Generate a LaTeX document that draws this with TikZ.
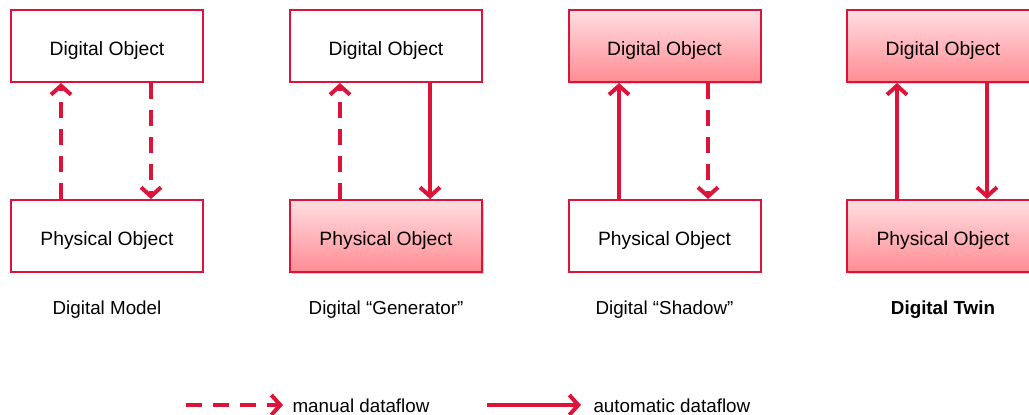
\documentclass[tikz,border=0pt]{standalone}
\usepackage{fontspec}
\setmainfont{Liberation Sans}
\usetikzlibrary{arrows.meta,shadows}
\definecolor{flowred}{RGB}{220,20,58}
\definecolor{filltop}{RGB}{255,222,225}
\definecolor{fillbot}{RGB}{255,140,148}
\tikzset{
  x=1pt, y=-1pt,
  boxfont/.style={font=\fontsize{19.3}{22}\selectfont},
  textfont/.style={font=\fontsize{18.8}{22}\selectfont},
  % text baseline sits 9pt below the box centre
  objbox/.style={draw=flowred, line width=2pt, minimum width=192pt, minimum height=72pt,
    inner sep=0pt, boxfont, fill=white, text height=20pt, text depth=2pt},
  autobox/.style={objbox, top color=filltop, bottom color=fillbot,
    drop shadow={shadow xshift=1.5pt, shadow yshift=-1.5pt, opacity=0.35}},
  flow/.style={draw=flowred, line width=4pt,
    -{Straight Barb[length=9pt,width=20pt,line width=4pt]}},
  manual/.style={flow, dash pattern=on 16pt off 11pt},
  caption/.style={textfont, anchor=base},
  legendtext/.style={textfont, anchor=base west}
}
\begin{document}
\begin{tikzpicture}
\useasboundingbox (0,0) rectangle (1029,415);

% Digital Model
\node[objbox] (d1) at (107,46) {Digital Object};
\node[objbox] (p1) at (107,236) {Physical Object};
\draw[manual] (p1.north -| 61,0) -- (d1.south -| 61,0);
\draw[manual] (d1.south -| 151,0) -- (p1.north -| 151,0);
\node[caption] (c1) at (107,314) {Digital Model};

% Digital Generator
\node[objbox] (d2) at (386,46) {Digital Object};
\node[autobox] (p2) at (386,236) {Physical Object};
\draw[manual] (p2.north -| 340,0) -- (d2.south -| 340,0);
\draw[flow] (d2.south -| 430,0) -- (p2.north -| 430,0);
\node[caption] (c2) at (386,314) {Digital “Generator”};

% Digital Shadow
\node[autobox] (d3) at (664.5,46) {Digital Object};
\node[objbox] (p3) at (664.5,236) {Physical Object};
\draw[flow] (p3.north -| 619,0) -- (d3.south -| 619,0);
\draw[manual] (d3.south -| 708,0) -- (p3.north -| 708,0);
\node[caption] (c3) at (664.5,314) {Digital “Shadow”};

% Digital Twin
\node[autobox] (d4) at (943,46) {Digital Object};
\node[autobox] (p4) at (943,236) {Physical Object};
\draw[flow] (p4.north -| 897,0) -- (d4.south -| 897,0);
\draw[flow] (d4.south -| 987,0) -- (p4.north -| 987,0);
\node[caption, font=\fontsize{18.8}{22}\selectfont\bfseries] (c4) at (943,314) {Digital Twin};

% Legend
\coordinate (m0) at (186,405);
\coordinate (m1) at (283,405);
\draw[manual] (m0) -- (m1);
\node[legendtext] (ml) at (289,412.5) {manual dataflow};
\coordinate (a0) at (487,405);
\coordinate (a1) at (581,405);
\draw[flow] (a0) -- (a1);
\node[legendtext] (al) at (590,412.5) {automatic dataflow};
\end{tikzpicture}
\end{document}
